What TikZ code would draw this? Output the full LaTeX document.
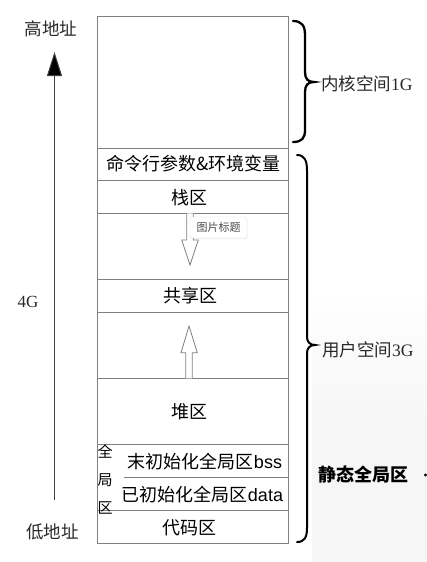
\documentclass[tikz,border=0pt]{standalone}
\usepackage{fontspec}
\setmainfont{Noto Sans CJK SC}
\newfontfamily\serifnum{Liberation Serif}
\newfontfamily\latsans{Liberation Sans}
\usetikzlibrary{arrows.meta,shadows}
\definecolor{boxgray}{RGB}{128,128,128}
\definecolor{bggray}{RGB}{246,246,246}
\definecolor{txtdark}{RGB}{40,40,40}
\begin{document}
\begin{tikzpicture}[x=1pt,y=-1pt,
  region/.style={draw=boxgray, line width=0.8pt, minimum width=191pt, inner sep=0pt, anchor=north west},
  boxtext/.style={font=\fontsize{18}{20}\selectfont, text=black, inner sep=0pt},
  sidetext/.style={font=\fontsize{17.5}{20}\selectfont, text=txtdark, inner sep=0pt},
  hollow/.style={draw=boxgray, line width=0.8pt, fill=white, line join=miter},
  bracestyle/.style={draw=black, line width=2.3pt, line cap=round}]
\useasboundingbox (0,0) rectangle (427,562);
% background shadow of the screenshot
\fill[bggray] (312,420) rectangle (427,562);
\shade[top color=white, bottom color=bggray] (312,290) rectangle (427,420);
% regions
\node[region, minimum height=132pt] (kernel) at (97,15.7) {};
\node[region, minimum height=32.6pt] (cmd) at (97,147.7) {};
\node[region, minimum height=33pt] (stack) at (97,180.3) {};
\node[region, minimum height=66pt] (gapa) at (97,213.3) {};
\node[region, minimum height=33pt] (shared) at (97,279.3) {};
\node[region, minimum height=66pt] (gapb) at (97,312.3) {};
\node[region, minimum height=65.7pt] (heap) at (97,378.3) {};
\node[region, minimum height=66pt] (global) at (97,444) {};
\node[region, minimum height=33pt] (code) at (97,510) {};
\coordinate (sepl) at (124,477.3);
\draw[draw=boxgray, line width=0.8pt] (sepl) -- (sepl -| global.east);
% texts in regions
\node[boxtext] (tcmd) at (193.5,164) {命令行参数\&环境变量};
\node[boxtext] (tstack) at (189,197.5) {栈区};
\node[boxtext] (tshared) at (190.5,296) {共享区};
\node[boxtext] (theap) at (189,412) {堆区};
\node[boxtext] (tbss) at (205,461.5) {末初始化全局区{\latsans bss}};
\node[boxtext] (tdata) at (202.5,494.5) {已初始化全局区{\latsans data}};
\node[boxtext] (tcode) at (189.5,527.5) {代码区};
\node[font=\fontsize{15}{28}\selectfont, align=center, inner sep=0pt] (tglobal) at (105,479) {全\\局\\区};
% growth arrows
\draw[hollow] (186.7,213.3) -- (186.7,240) -- (181.7,240) -- (190,265) -- (198.3,240) -- (193.3,240) -- (193.3,213.3);
\draw[hollow] (185.7,378.3) -- (185.7,352.7) -- (181,352.7) -- (189,326) -- (197.3,352.7) -- (192.3,352.7) -- (192.3,378.3);
% tooltip
\node[draw=gray!22, fill=white, rounded corners=2pt, minimum width=57pt, minimum height=21pt, inner sep=0pt,
  font=\fontsize{11}{12}\selectfont, text=black!70,
  drop shadow={opacity=0.12, shadow xshift=0.6pt, shadow yshift=-1.2pt}] (tip) at (218.5,227.5) {图片标题};
% address arrow
\coordinate (lowend) at (54.5,500);
\coordinate (hightip) at (54.5,52);
\draw[draw=black!75, line width=1pt, -{Triangle[length=24pt,width=15pt,fill=black]}] (lowend) -- (hightip);
\node[sidetext] (high) at (51,29) {高地址};
\node[sidetext] (low) at (52.5,532) {低地址};
\node[sidetext, font=\serifnum\fontsize{17}{20}\selectfont] (four) at (28,302) {4G};
% braces
\draw[bracestyle] (293,21) .. controls (302,21) and (305,26) .. (305,35) -- (305,72)
  .. controls (305,79) and (308,82) .. (314,82) .. controls (308,82) and (305,85) .. (305,92)
  -- (305,130) .. controls (305,138) and (302,142) .. (293,142);
\draw[bracestyle, line width=2pt] (297,155) .. controls (304,155) and (307,160) .. (307,170) -- (307,337)
  .. controls (307,342) and (310,345) .. (315,345) .. controls (310,345) and (307,348) .. (307,353)
  -- (307,528) .. controls (307,538) and (304,542) .. (297,542);
\node[sidetext, anchor=west] (kernlab) at (321,84) {内核空间{\serifnum 1G}};
\node[sidetext, anchor=west] (userlab) at (322,350) {用户空间{\serifnum 3G}};
\node[sidetext, anchor=west, font=\bfseries\fontsize{18}{20}\selectfont, text=black] (staticlab) at (318,475) {静态全局区};
\fill[black] (425.5,475) circle (1.6pt);
\end{tikzpicture}
\end{document}
